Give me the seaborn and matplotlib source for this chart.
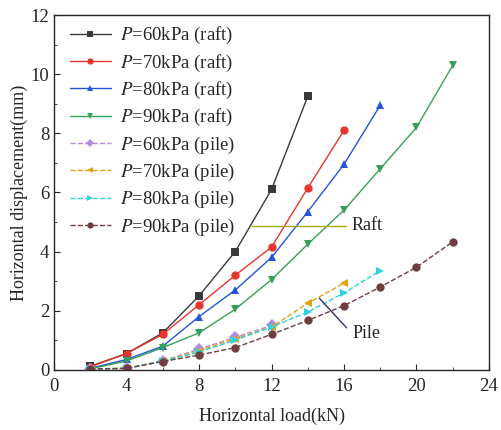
import numpy as np
import pandas as pd
import matplotlib
matplotlib.use("Agg")
import matplotlib.pyplot as plt
import seaborn as sns
from matplotlib.ticker import MultipleLocator

# ==============================
# DATA
# ==============================

load_raft_60 = [2, 4, 6, 8, 10, 12, 14]
disp_raft_60 = [0.12, 0.55, 1.25, 2.5, 4.0, 6.1, 9.25]

load_raft_70 = [2, 4, 6, 8, 10, 12, 14, 16]
disp_raft_70 = [0.1, 0.55, 1.2, 2.2, 3.2, 4.15, 6.15, 8.1]

load_raft_80 = [2, 4, 6, 8, 10, 12, 14, 16, 18]
disp_raft_80 = [0.05, 0.35, 0.8, 1.8, 2.7, 3.8, 5.35, 6.95, 8.95]

load_raft_90 = [2, 4, 6, 8, 10, 12, 14, 16, 18, 20, 22]
disp_raft_90 = [0.03, 0.3, 0.75, 1.25, 2.05, 3.05, 4.25, 5.4, 6.8, 8.2, 10.3]

load_pile_60 = [2, 4, 6, 8, 10, 12]
disp_pile_60 = [0.02, 0.05, 0.3, 0.7, 1.1, 1.5]

load_pile_70 = [2, 4, 6, 8, 10, 12, 14, 16]
disp_pile_70 = [0.02, 0.05, 0.3, 0.65, 1.05, 1.45, 2.25, 2.93]

load_pile_80 = [2, 4, 6, 8, 10, 12, 14, 16, 18]
disp_pile_80 = [0.02, 0.05, 0.3, 0.6, 1.0, 1.45, 1.95, 2.6, 3.35]

load_pile_90 = [2, 4, 6, 8, 10, 12, 14, 16, 18, 20, 22]
disp_pile_90 = [0.03, 0.05, 0.28, 0.5, 0.75, 1.2, 1.67, 2.17, 2.8, 3.47, 4.33]

labels = ["$P$=60kPa (raft)", "$P$=70kPa (raft)", "$P$=80kPa (raft)", "$P$=90kPa (raft)",
          "$P$=60kPa (pile)", "$P$=70kPa (pile)", "$P$=80kPa (pile)", "$P$=90kPa (pile)"]

# ==============================
# STYLE
# ==============================

sns.set_style("ticks")
plt.rcParams["font.family"] = ["Liberation Serif", "DejaVu Serif"]
plt.rcParams["mathtext.fontset"] = "stix"
plt.rcParams["xtick.direction"] = "in"
plt.rcParams["ytick.direction"] = "in"

series = [
    (load_raft_60, disp_raft_60, "#3a3a3a", "s", "-"),
    (load_raft_70, disp_raft_70, "#e8352e", "o", "-"),
    (load_raft_80, disp_raft_80, "#2455d6", "^", "-"),
    (load_raft_90, disp_raft_90, "#36a058", "v", "-"),
    (load_pile_60, disp_pile_60, "#b38be0", "D", "--"),
    (load_pile_70, disp_pile_70, "#dca514", "<", "--"),
    (load_pile_80, disp_pile_80, "#2fd4d8", ">", "--"),
    (load_pile_90, disp_pile_90, "#6e3e40", "o", "--"),
]

fig = plt.figure(figsize=(5.01, 4.30), dpi=100)
ax = fig.add_axes([0.108, 0.14, 0.868, 0.825])

for (x, y, c, m, ls), lab in zip(series, labels):
    df = pd.DataFrame({"x": x, "y": y})
    sns.lineplot(data=df, x="x", y="y", ax=ax, color=c, marker=m, linestyle=ls,
                 linewidth=1.0, markersize=6, markeredgewidth=0,
                 label=lab)

# annotations
ax.plot([10.9, 16.1], [4.87, 4.87], color="#a8a80c", linewidth=1.0)
ax.text(16.4, 4.87, "Raft", fontsize=13, va="center", ha="left")
ax.plot([14.64, 16.14], [2.42, 1.42], color="#2e3570", linewidth=1.0)
ax.text(16.45, 1.22, "Pile", fontsize=13, va="center", ha="left")

ax.set_xlim(0, 24)
ax.set_ylim(0, 12)
ax.xaxis.set_major_locator(MultipleLocator(4))
ax.xaxis.set_minor_locator(MultipleLocator(2))
ax.yaxis.set_major_locator(MultipleLocator(2))
ax.yaxis.set_minor_locator(MultipleLocator(1))
ax.tick_params(which="major", length=4, labelsize=13.5)
ax.tick_params(axis="x", which="major", pad=6)
ax.tick_params(which="minor", length=2)
ax.set_xlabel("Horizontal load(kN)", fontsize=13, labelpad=9)
ax.set_ylabel("Horizontal displacement(mm)", fontsize=13, labelpad=2)
for s in ax.spines.values():
    s.set_linewidth(1.0)

ax.legend(loc="upper left", frameon=False, fontsize=13.5, handlelength=2.2,
          labelspacing=0.33, borderaxespad=0.25, borderpad=0.3, handletextpad=0.5,
          markerscale=0.75, bbox_to_anchor=(0.012, 1.0))

fig.savefig("out.png", dpi=100)
